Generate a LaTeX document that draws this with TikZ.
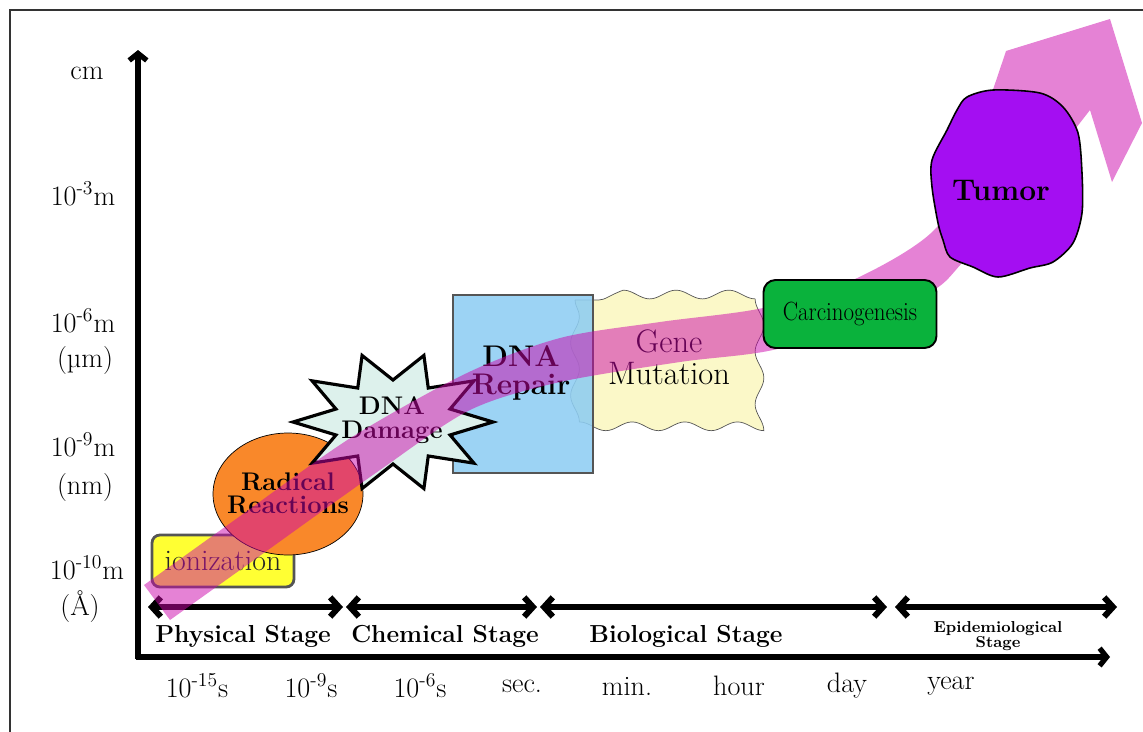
\documentclass[tikz,border=0pt]{standalone}
\usetikzlibrary{arrows.meta, shapes.geometric, decorations.pathmorphing}
\definecolor{RibbonPink}{HTML}{CC06AB}
\definecolor{IonYellow}{HTML}{FFFF33}
\definecolor{RadicalOrange}{HTML}{F9882A}
\definecolor{DamageMint}{HTML}{DDF1EC}
\definecolor{RepairBlue}{HTML}{8ECDF2}
\definecolor{MutationCream}{HTML}{FBF8C8}
\definecolor{CarcGreen}{HTML}{0AB23C}
\definecolor{TumorPurple}{HTML}{A40EF2}
\definecolor{EdgeGray}{HTML}{555555}

\begin{document}
\begin{tikzpicture}[x=0.02cm, y=-0.02cm,
    axisline/.style={line width=3pt, -{Straight Barb[length=4pt,width=10pt]}},
    stagearrow/.style={line width=3.4pt, {Straight Barb[length=5pt,width=11pt]}-{Straight Barb[length=5pt,width=11pt]}},
    scalelabel/.style={font=\fontsize{16}{18}\selectfont},
    stagelabel/.style={font=\fontsize{14}{16}\selectfont\bfseries},
    heavytext/.style={align=center, inner sep=0pt, font=\bfseries}]
    \useasboundingbox (0,0) rectangle (1143,731);
    \clip (0,0) rectangle (1143,731);

    % Frame
    \draw[line width=0.8pt, black!80] (10,740) -- (10,10) -- (1150,10);

    % Axis
    \coordinate (origin) at (138,657);
    \coordinate (ytop) at (138,50);
    \coordinate (xend) at (1110,657);
    \draw[axisline] (138,659) -- (ytop);
    \draw[axisline] (136,657) -- (xend);

    % Size scale (left)
    \node[scalelabel] (cm) at (87,73) {cm};
    \node[scalelabel] (mm) at (83,194) {10\textsuperscript{-3}m};
    \node[scalelabel] (um) at (83,321) {10\textsuperscript{-6}m};
    \node[scalelabel] (umtxt) at (85,360) {(µm)};
    \node[scalelabel] (nm) at (83,445) {10\textsuperscript{-9}m};
    \node[scalelabel] (nmtxt) at (85,487) {(nm)};
    \node[scalelabel] (ang) at (87,568) {10\textsuperscript{-10}m};
    \node[scalelabel] (angtxt) at (80,607) {(Å)};

    % Time scale (bottom)
    \node[scalelabel] (fs) at (197,686) {10\textsuperscript{-15}s};
    \node[scalelabel] (ns) at (311,686) {10\textsuperscript{-9}s};
    \node[scalelabel] (us) at (420,686) {10\textsuperscript{-6}s};
    \node[scalelabel] (sec) at (522,686) {sec.};
    \node[scalelabel] (min) at (627,686) {min.};
    \node[scalelabel] (hour) at (739,686) {hour};
    \node[scalelabel] (day) at (847,686) {day};
    \node[scalelabel] (year) at (951,686) {year};

    % Stages
    \coordinate (phys-l) at (148,607);
    \coordinate (phys-r) at (343,607);
    \coordinate (chem-l) at (346,607);
    \coordinate (chem-r) at (537,607);
    \coordinate (bio-l) at (540,607);
    \coordinate (bio-r) at (887,607);
    \coordinate (epi-l) at (895,607);
    \coordinate (epi-r) at (1117,607);
    \draw[stagearrow] (phys-l) -- (phys-r);
    \draw[stagearrow] (chem-l) -- (chem-r);
    \draw[stagearrow] (bio-l) -- (bio-r);
    \draw[stagearrow] (epi-l) -- (epi-r);
    \node[stagelabel] (physical) at (243,636) {Physical Stage};
    \node[stagelabel] (chemical) at (445,636) {Chemical Stage};
    \node[stagelabel] (biological) at (686,636) {Biological Stage};
    \node[font=\fontsize{9}{9}\selectfont\bfseries, align=center] (epidemio) at (998,636) {Epidemiological\\Stage};

    % Ionization
    \node[draw=EdgeGray, line width=1.6pt, fill=IonYellow, rounded corners=4.5pt,
        minimum width=2.84cm, minimum height=1.04cm, text=black!85,
        font=\fontsize{17}{18}\selectfont] (ion) at (223,561) {ionization};

    % Radical reactions
    \node[ellipse, draw, fill=RadicalOrange, minimum width=3cm, minimum height=2.44cm] (radical) at (288,494) {};

    % Gene mutation (behind repair box)
    \draw[EdgeGray, fill=MutationCream, decorate, decoration={snake, segment length=30pt, amplitude=2.5pt}]
        (575,300) rectangle (766,414);

    % DNA repair
    \node[draw=EdgeGray, line width=1.1pt, fill=RepairBlue, fill opacity=0.88,
        minimum width=2.8cm, minimum height=3.56cm] (repair) at (523,384) {};

    % DNA damage burst (over repair box)
    \begin{scope}[shift={(393,422)}]
        \draw[line width=1.8pt, fill=DamageMint] plot[samples at={0,18,...,342}, variable=\a]
            (\a:{100*(0.8+0.2*cos(10*\a))} and {70*(0.8+0.2*cos(10*\a))}) -- cycle;
    \end{scope}

    % Texts under the ribbon
    \node[heavytext, font=\fontsize{14.5}{13}\selectfont\bfseries] (radicaltxt) at (288,493) {Radical\\Reactions};
    \node[heavytext, font=\fontsize{14.5}{14}\selectfont\bfseries] (damage) at (392,420) {DNA\\Damage};
    \node[heavytext, font=\fontsize{17}{16}\selectfont\bfseries] (repairtxt) at (521,373) {DNA\\Repair};
    \node[align=center, inner sep=0pt, font=\fontsize{18.5}{18}\selectfont] (mutation) at (669,357) {Gene\\Mutation};

    % Ribbon
    \fill[RibbonPink, fill opacity=0.5]
        (170,620) -- (144,585)
        -- plot[smooth, tension=0.5] coordinates {(250,509) (352,437) (467,373) (560,338) (660,322) (763,308) (853,280) (937,227) (975,140) (1006,51)}
        -- (1110,19) -- (1142,123) -- (1112,182) -- (1090,110)
        -- plot[smooth, tension=0.5] coordinates {(1020,200) (963,262) (937,288) (880,318) (773,350) (680,362) (560,382) (470,410) (380,470) (275,545)}
        -- cycle;

    % Carcinogenesis
    \node[draw, line width=1.1pt, fill=CarcGreen, rounded corners=6.8pt,
        minimum width=3.46cm, minimum height=1.36cm,
        font=\fontsize{15}{16}\selectfont] (carc) at (850,314) {\scalebox{0.87}[1]{Carcinogenesis}};

    % Tumor
    \draw[line width=0.9pt, fill=TumorPurple] plot[smooth cycle, tension=0.5] coordinates {
        (967,97) (993,90) (1040,93) (1063,107) (1078,133) (1082,173) (1082,213) (1073,243)
        (1053,262) (1030,268) (998,277) (973,267) (950,257) (943,240) (938,223) (932,187)
        (932,160) (947,130) (957,110)};
    \node[heavytext, font=\fontsize{17}{18}\selectfont\bfseries] (tumor) at (1001,190) {Tumor};
\end{tikzpicture}
\end{document}
